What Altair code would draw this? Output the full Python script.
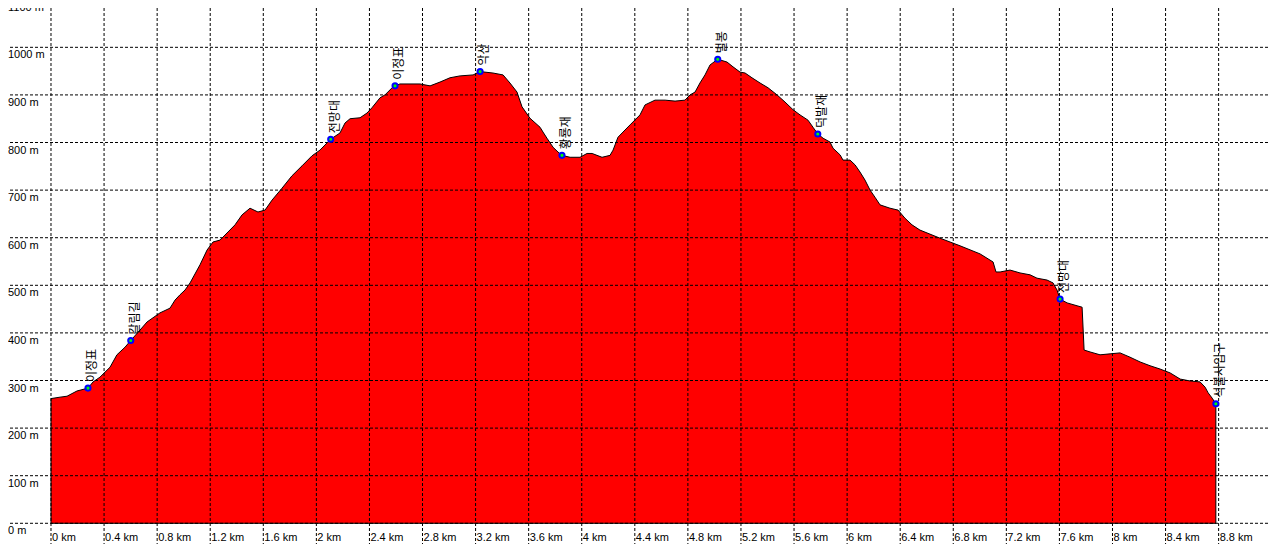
import altair as alt
import pandas as pd

# elevation profile (distance in km, elevation in m)
dist_km = [0.000, 0.068, 0.121, 0.196, 0.279, 0.317, 0.369, 0.445, 0.497, 0.558,
           0.601, 0.671, 0.724, 0.821, 0.897, 0.935, 0.972, 1.010, 1.048, 1.123,
           1.176, 1.221, 1.274, 1.334, 1.387, 1.440, 1.500, 1.560, 1.613, 1.666,
           1.741, 1.816, 1.892, 1.967, 2.027, 2.108, 2.178, 2.216, 2.254, 2.329,
           2.382, 2.419, 2.480, 2.517, 2.578, 2.593, 2.630, 2.781, 2.857, 2.932,
           3.007, 3.083, 3.181, 3.234, 3.331, 3.407, 3.459, 3.512, 3.550, 3.610,
           3.686, 3.708, 3.738, 3.784, 3.821, 3.851, 3.912, 3.987, 4.040, 4.078,
           4.115, 4.153, 4.213, 4.236, 4.273, 4.311, 4.364, 4.439, 4.477, 4.552,
           4.628, 4.703, 4.778, 4.816, 4.854, 4.891, 4.929, 4.967, 5.025, 5.095,
           5.140, 5.193, 5.231, 5.283, 5.344, 5.404, 5.472, 5.532, 5.592, 5.645,
           5.705, 5.743, 5.779, 5.819, 5.871, 5.894, 5.947, 5.969, 6.022, 6.060,
           6.097, 6.135, 6.173, 6.210, 6.248, 6.323, 6.384, 6.436, 6.489, 6.549,
           6.700, 6.851, 7.002, 7.100, 7.122, 7.153, 7.228, 7.303, 7.379, 7.431,
           7.507, 7.552, 7.582, 7.605, 7.658, 7.733, 7.771, 7.786, 7.831, 7.906,
           7.982, 8.057, 8.132, 8.208, 8.283, 8.359, 8.434, 8.510, 8.585, 8.660,
           8.698, 8.721, 8.751, 8.779]
elev_m = [262, 265, 267, 278, 284, 297, 307, 328, 354, 370,
          384, 406, 423, 442, 452, 469, 480, 490, 505, 543,
          574, 591, 595, 612, 627, 648, 662, 654, 658, 679,
          704, 730, 751, 772, 784, 807, 820, 841, 850, 852,
          862, 873, 894, 900, 917, 919, 923, 923, 919, 927,
          936, 940, 942, 949, 946, 942, 925, 906, 875, 851,
          832, 822, 809, 790, 780, 773, 769, 769, 777, 777,
          773, 769, 773, 784, 811, 822, 837, 858, 879, 889,
          889, 887, 889, 900, 906, 925, 942, 963, 975, 969,
          959, 948, 946, 936, 925, 915, 900, 885, 869, 858,
          847, 832, 818, 809, 801, 788, 774, 763, 763, 753,
          738, 721, 700, 685, 669, 662, 658, 641, 627, 616,
          599, 583, 566, 549, 528, 528, 532, 526, 522, 515,
          511, 505, 490, 471, 463, 457, 454, 364, 360, 354,
          356, 358, 349, 339, 331, 324, 316, 303, 299, 297,
          286, 274, 263, 251]

# waypoints
wp_km = [0.279, 0.601, 2.108, 2.593, 3.234, 3.851, 5.025, 5.779, 7.605, 8.779]
wp_m = [284, 384, 807, 919, 949, 773, 975, 818, 471, 251]
wp_name = ["이정표", "갈림길", "전망대", "이정표", "악산", "황룡재", "벌봉", "덕발재", "전망대", "석불사입구"]

# axis ticks and labels
x_ticks = [0, 0.4, 0.8, 1.2, 1.6, 2.0, 2.4, 2.8, 3.2, 3.6, 4.0, 4.4,
           4.8, 5.2, 5.6, 6.0, 6.4, 6.8, 7.2, 7.6, 8.0, 8.4, 8.8, 9.2]
x_labels = ["0 km", "0.4 km", "0.8 km", "1.2 km", "1.6 km", "2 km", "2.4 km", "2.8 km",
            "3.2 km", "3.6 km", "4 km", "4.4 km", "4.8 km", "5.2 km", "5.6 km", "6 km",
            "6.4 km", "6.8 km", "7.2 km", "7.6 km", "8 km", "8.4 km", "8.8 km", "9 km"]
y_ticks = [0, 100, 200, 300, 400, 500, 600, 700, 800, 900, 1000, 1100]
y_labels = ["0 m", "100 m", "200 m", "300 m", "400 m", "500 m", "600 m", "700 m",
            "800 m", "900 m", "1000 m", "1100 m"]

prof = pd.DataFrame({"km": dist_km, "m": elev_m})
prof["base"] = 0
wps = pd.DataFrame({"km": wp_km, "m": wp_m, "name": wp_name})
xt = pd.DataFrame({"km": x_ticks, "lab": x_labels})
xt["base"] = 0
yt = pd.DataFrame({"m": y_ticks, "lab": y_labels})

xs = alt.Scale(domain=[-0.324, 9.172], nice=False, zero=False)
ys = alt.Scale(domain=[-43.5, 1082.6], nice=False, zero=False)
FONT = "Liberation Sans"

area = alt.Chart(prof).mark_area(
    fill="#ff0000", stroke="#000000", strokeWidth=1, interpolate="linear", opacity=1
).encode(
    x=alt.X("km:Q", scale=xs, axis=None),
    y=alt.Y("m:Q", scale=ys, axis=None),
    y2="base:Q",
)

vgrid = alt.Chart(xt).mark_rule(color="#000000", strokeWidth=1, strokeDash=[3, 2]).encode(
    x=alt.X("km:Q", scale=xs, axis=None)
)
hgrid = alt.Chart(yt).mark_rule(color="#000000", strokeWidth=1, strokeDash=[3, 2]).encode(
    y=alt.Y("m:Q", scale=ys, axis=None)
)

xlab = alt.Chart(xt).mark_text(
    align="left", baseline="top", dx=1, dy=9, fontSize=11, font=FONT, color="#000000"
).encode(
    x=alt.X("km:Q", scale=xs, axis=None),
    y=alt.Y("base:Q", scale=ys, axis=None),
    text="lab:N",
)
ylab = alt.Chart(yt).mark_text(
    align="left", baseline="top", dy=2, fontSize=11, font=FONT, color="#000000"
).encode(
    x=alt.value(0),
    y=alt.Y("m:Q", scale=ys, axis=None),
    text="lab:N",
)

pts = alt.Chart(wps).mark_point(
    shape="circle", filled=True, fill="#00ff00", stroke="#0000ff", strokeWidth=2, size=26, opacity=1
).encode(
    x=alt.X("km:Q", scale=xs, axis=None),
    y=alt.Y("m:Q", scale=ys, axis=None),
)
names = alt.Chart(wps).mark_text(
    angle=270, align="left", baseline="top", dx=6, dy=-1,
    fontSize=12, font="Noto Sans CJK KR", color="#000000"
).encode(
    x=alt.X("km:Q", scale=xs, axis=None),
    y=alt.Y("m:Q", scale=ys, axis=None),
    text="name:N",
)

chart = alt.layer(area, vgrid, hgrid, xlab, ylab, pts, names).properties(
    width=1260, height=536, padding=0,
    autosize=alt.AutoSizeParams(type="none"),
    background="#ffffff",
).configure_view(strokeOpacity=0)

chart.save("out.html", embed_options={"renderer": "svg", "actions": False})
